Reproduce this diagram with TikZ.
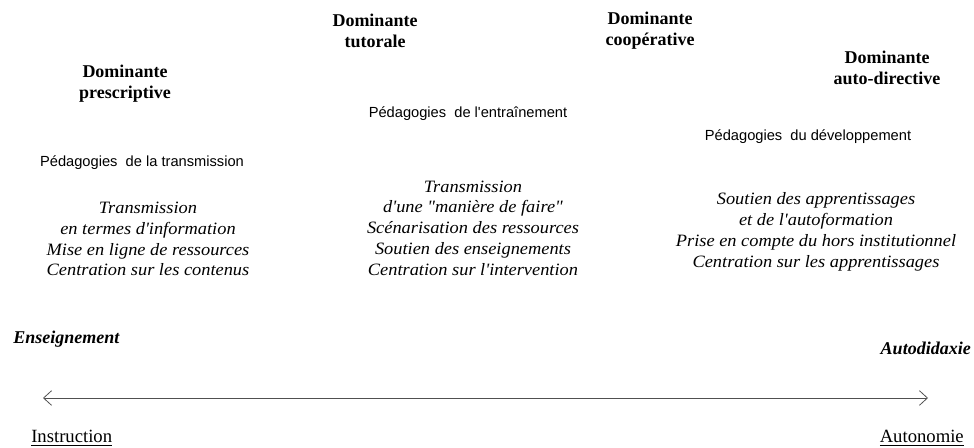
\documentclass[tikz,border=0pt]{standalone}
\usepackage{fontspec}
\setmainfont{Liberation Serif}
\newfontfamily\arialfont{Liberation Sans}
\newfontfamily\italfont[Ligatures=TeXOff,FakeStretch=1.06]{Liberation Serif}
\usetikzlibrary{arrows.meta}

\begin{document}
\begin{tikzpicture}[x=0.75pt,y=0.75pt,yscale=-1,xscale=1,
  dominante/.style={font=\fontsize{13.5}{15.75}\selectfont\bfseries, align=center, inner sep=0.75pt},
  pedago/.style={font=\arialfont\fontsize{11}{13}\selectfont, inner sep=0.75pt},
  traits/.style={font=\italfont\fontsize{13}{15.6}\selectfont\itshape, align=center, inner sep=0.75pt},
  pole/.style={font=\fontsize{13.5}{15}\selectfont\bfseries\itshape, inner sep=0.75pt},
  borne/.style={font=\fontsize{14}{15}\selectfont, inner sep=0.75pt},
  axe/.style={color={rgb, 255:red, 80; green, 80; blue, 80}, line width=0.6, {Straight Barb[length=6pt,width=11pt]}-{Straight Barb[length=6pt,width=11pt]}}]
\useasboundingbox (0,0) rectangle (974,447);

% Text Node
\node (prescr) at (125,84) [dominante] {Dominante\\prescriptive};
% Text Node
\node (tutor) at (375,31) [dominante] {Dominante\\tutorale};
% Text Node
\node (coop) at (650,31) [dominante] {Dominante\\coopérative};
% Text Node
\node (autodir) at (887,68) [dominante] {Dominante\\auto-directive};

% Text Node
\node (transm) at (142,163) [pedago] {Pédagogies\ \ de la transmission};
% Text Node
\node (entrain) at (468,114) [pedago] {Pédagogies\ \ de l'entraînement};
% Text Node
\node (develop) at (808,137) [pedago] {Pédagogies\ \ du développement};

% Text Node
\node (traitsA) at (148,239) [traits] {Transmission\\en termes d'information\\Mise en ligne de ressources\\Centration sur les contenus};
% Text Node
\node (traitsB) at (473,228) [traits] {Transmission\\d'une "manière de faire"\\Scénarisation des ressources\\Soutien des enseignements\\Centration sur l'intervention};
% Text Node
\node (traitsC) at (816,232) [traits] {Soutien des apprentissages\\et de l'autoformation\\Prise en compte du hors institutionnel\\Centration sur les apprentissages};

% Text Node
\node (enseign) at (12,339) [pole, anchor=west] {Enseignement};
% Text Node
\node (autodid) at (972,348) [pole, anchor=east] {Autodidaxie};

%Straight Lines
\coordinate (gauche) at (43,398);
\coordinate (droite) at (928,398);
\draw [axe] (gauche) -- (droite);

% Text Node
\node (instr) at (30,438) [borne, anchor=west] {\underline{Instruction}};
% Text Node
\node (auton) at (965,438) [borne, anchor=east] {\underline{Autonomie}};

\end{tikzpicture}
\end{document}
